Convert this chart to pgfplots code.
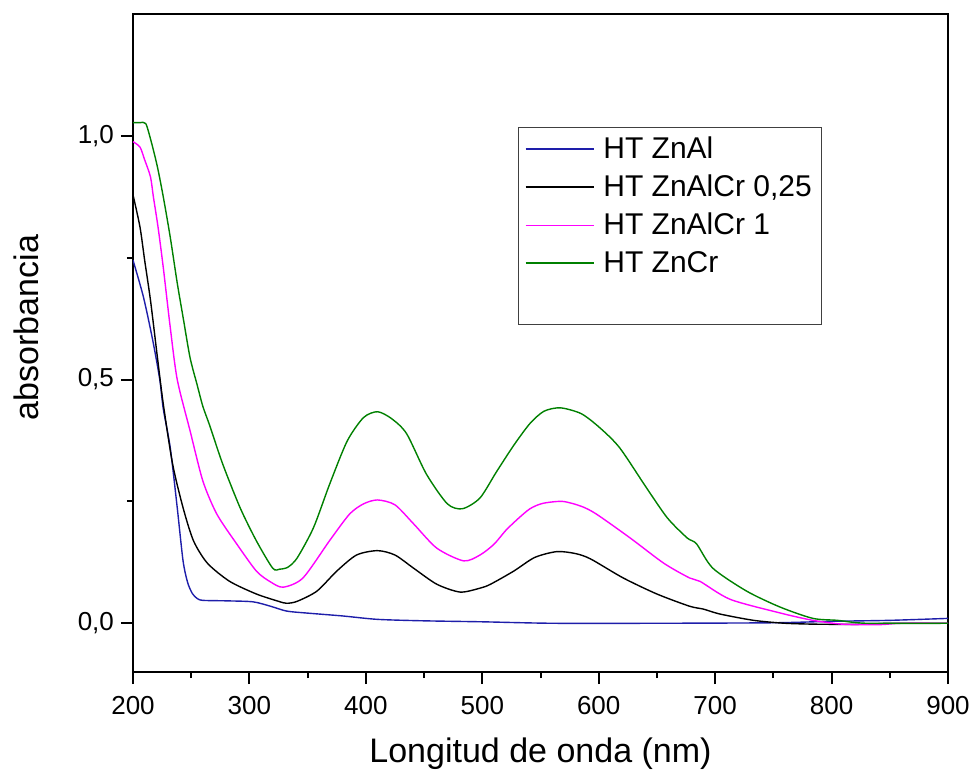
\documentclass[border=0pt]{standalone}
\usepackage{fontspec}
\setmainfont{Liberation Sans}
\usepackage{pgfplots}
\pgfplotsset{compat=1.18}
\definecolor{cblue}{RGB}{30,30,170}
\definecolor{cgreen}{RGB}{0,128,0}
\definecolor{cmag}{RGB}{255,0,255}
\begin{document}
\begin{tikzpicture}
\begin{axis}[
  scale only axis,
  width=407.5pt, height=329pt,
  xmin=200, xmax=900, ymin=-0.1, ymax=1.25,
  xtick={200,300,...,900}, ytick={0,0.5,1},
  minor x tick num=1, minor y tick num=1,
  tick align=outside, xtick pos=bottom, ytick pos=left,
  major tick length=6pt, minor tick length=3pt,
  axis line style={line width=1pt},
  every tick/.style={line width=1pt, black},
  /pgf/number format/assume math mode=true,
  yticklabel style={/pgf/number format/.cd, use comma, fixed, fixed zerofill, precision=1},
  xticklabel style={yshift=-2.5pt, /pgf/number format/.cd, 1000 sep={}},
  tick label style={font=\fontsize{13}{15}\selectfont},
  every axis x label/.style={at={(axis description cs:0.5,0)}, anchor=base, yshift=-45pt, font=\fontsize{17}{20}\selectfont},
  every axis y label/.style={at={(axis description cs:-0.1313,0.5236)}, rotate=90, anchor=center, font=\fontsize{17}{20}\selectfont},
  xlabel={Longitud de onda (nm)}, ylabel={absorbancia},
  legend style={at={(0.4724,0.8283)}, anchor=north west,
    font=\fontsize{15}{17}\selectfont, draw=black!75, line width=0.6pt,
    inner xsep=3pt, inner ysep=2.5pt, row sep=2.75pt,
    /tikz/every odd column/.append style={column sep=2.5pt}},
  legend cell align=left,
  legend image code/.code={\draw[#1, line width=0.9pt] (0pt,0pt) -- (34pt,0pt);},
  every axis plot/.append style={line width=0.7pt, smooth, tension=0.45},
]
\addplot[cblue] coordinates {
(200,0.745) (209,0.669) (217,0.58) (223,0.50) (226,0.44) (232,0.36) (238,0.237)
(243,0.128) (247,0.083) (251,0.061) (255,0.051) (260,0.047) (280,0.046) (303,0.044)
(318,0.035) (332,0.025) (349,0.021) (380,0.015) (410,0.008) (450,0.005) (500,0.003)
(560,0.0) (650,0.0) (750,0.001) (800,0.004) (850,0.006) (900,0.01)};
\addlegendentry{HT ZnAl}
\addplot[black] coordinates {
(200,0.879) (206,0.813) (210,0.745) (215,0.663) (221,0.545) (226,0.45) (234,0.327)
(243,0.237) (252,0.169) (264,0.123) (283,0.086) (306,0.06) (325,0.045) (332,0.041)
(341,0.045) (358,0.066) (375,0.107) (392,0.140) (410,0.149) (425,0.140) (441,0.113)
(461,0.08) (481,0.064) (498,0.072) (507,0.08) (527,0.107) (545,0.135) (564,0.147)
(580,0.143) (593,0.132) (621,0.093) (650,0.06) (678,0.035) (690,0.029) (704,0.019)
(733,0.006) (760,0.0) (790,-0.002) (830,-0.002) (850,0.0) (900,0.0)};
\addlegendentry{HT ZnAlCr 0,25}
\addplot[cmag] coordinates {
(200,0.988) (206,0.977) (210,0.951) (215,0.916) (217.5,0.875) (221.5,0.813) (226,0.73)
(232,0.607) (238,0.5) (249,0.395) (260,0.292) (272,0.224) (289,0.163)
(306,0.107) (318,0.085) (329,0.074) (346,0.093) (369,0.17) (386,0.224) (398,0.245)
(410,0.253) (425,0.243) (441,0.204) (461,0.154) (484,0.128) (498,0.14) (510,0.162)
(520,0.19) (530,0.213) (541,0.235) (552,0.246) (569,0.25) (585,0.24) (598,0.224) (627,0.175) (656,0.123)
(678,0.093) (687,0.086) (713,0.049) (756,0.021) (784,0.006) (810,-0.002) (840,-0.003)
(860,0.0) (900,0.0)};
\addlegendentry{HT ZnAlCr 1}
\addplot[cgreen] coordinates {
(200,1.027) (206,1.027) (211,1.025) (216,0.985) (221,0.936) (226,0.875) (232,0.792)
(238,0.698) (243,0.628) (249,0.545) (255,0.49) (260,0.445) (266,0.405) (277,0.327)
(292,0.237) (306,0.169) (320,0.113) (326,0.111) (333,0.115) (341,0.134) (355,0.196)
(369,0.286) (384,0.374) (398,0.422) (410,0.434) (422,0.42) (435,0.389) (452,0.306)
(470,0.245) (483,0.235) (498,0.257) (512,0.31) (527,0.365) (541,0.41) (553,0.435) (567,0.442)
(585,0.43) (601,0.401) (618,0.36) (641,0.278) (659,0.216) (676,0.175) (684,0.163)
(698,0.113) (727,0.066) (756,0.033) (784,0.01) (805,0.006) (830,0.0) (900,0.0)};
\addlegendentry{HT ZnCr}
\addlegendimage{empty legend}
\addlegendentry{\strut}
\end{axis}
\pgfresetboundingbox
\path ([shift={(-66.5pt,-50pt)}]current axis.south west) rectangle ([shift={(13pt,7pt)}]current axis.north east);
\end{tikzpicture}
\end{document}
